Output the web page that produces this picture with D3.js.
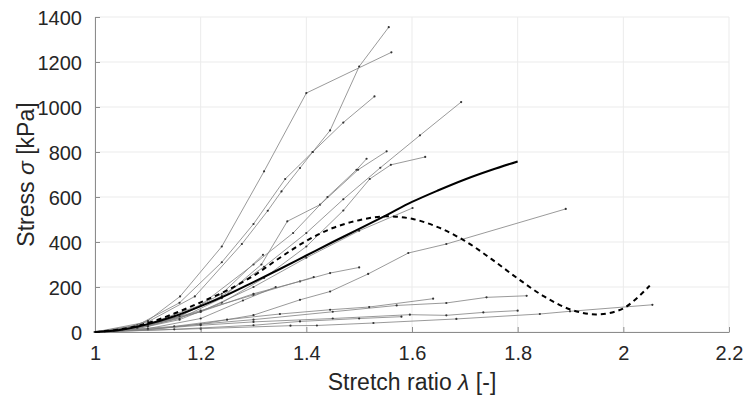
<!DOCTYPE html>
<html>
<head>
<meta charset="utf-8">
<script src="https://cdn.jsdelivr.net/npm/d3@7/dist/d3.min.js"></script>
<style>
	body { margin: 0; background: #fff; }
	text { font-family: 'Liberation Sans', Arial, sans-serif; fill: #262626; }
</style>
</head>
<body>
<div id="chart"></div>
<script>
// axis ticks
const lambdaTicks = [1, 1.2, 1.4, 1.6, 1.8, 2, 2.2];
const stressTicks = [0, 200, 400, 600, 800, 1000, 1200, 1400];

// specimens: [stretch ratio, stress kPa]
const s01 = [[1, 0], [1.1, 45], [1.189, 158], [1.278, 391], [1.327, 539], [1.353, 625], [1.388, 729], [1.412, 800], [1.445, 896], [1.5, 1180], [1.556, 1355]];
const s02 = [[1, 0], [1.05, 10], [1.1, 50], [1.161, 158], [1.24, 380], [1.32, 714], [1.4, 1062], [1.561, 1243]];
const s03 = [[1, 0], [1.08, 30], [1.16, 130], [1.24, 310], [1.3, 480], [1.36, 680], [1.412, 800], [1.47, 931], [1.529, 1047]];
const s04 = [[1, 0], [1.08, 20], [1.16, 70], [1.24, 160], [1.32, 290], [1.4, 440], [1.47, 590], [1.54, 730], [1.615, 874], [1.693, 1022]];
const s05 = [[1, 0], [1.08, 18], [1.16, 60], [1.24, 150], [1.315, 300], [1.364, 492], [1.426, 566], [1.498, 721], [1.552, 803]];
const s06 = [[1, 0], [1.1, 35], [1.2, 120], [1.3, 300], [1.375, 440], [1.44, 600], [1.495, 721], [1.514, 770]];
const s07 = [[1, 0], [1.08, 15], [1.16, 55], [1.24, 130], [1.32, 240], [1.4, 380], [1.47, 540], [1.52, 680], [1.56, 743], [1.625, 778]];
const s08 = [[1, 0], [1.1, 10], [1.2, 35], [1.3, 75], [1.388, 143], [1.445, 180], [1.517, 258], [1.593, 351], [1.665, 391], [1.891, 547]];
const s09 = [[1, 0], [1.1, 25], [1.2, 90], [1.3, 200], [1.4, 330], [1.5, 450], [1.601, 551]];
const s10 = [[1, 0], [1.1, 30], [1.2, 90], [1.3, 170], [1.388, 225], [1.445, 262], [1.5, 287]];
const s11 = [[1, 0], [1.1, 30], [1.2, 95], [1.3, 165], [1.414, 244]];
const s12 = [[1, 0], [1.1, 12], [1.2, 35], [1.3, 55], [1.45, 90], [1.571, 118], [1.665, 129], [1.741, 154], [1.817, 161]];
const s13 = [[1, 0], [1.15, 25], [1.25, 55], [1.35, 80], [1.445, 99], [1.519, 111], [1.64, 148]];
const s14 = [[1, 0], [1.1, 12], [1.2, 30], [1.3, 45], [1.45, 60], [1.596, 77], [1.665, 74], [1.735, 87], [1.8, 95]];
const s15 = [[1, 0], [1.2, 15], [1.37, 28], [1.42, 29], [1.527, 40], [1.684, 58], [1.842, 80], [1.899, 92], [2.055, 121]];
const s16 = [[1, 0], [1.08, 20], [1.16, 70], [1.24, 170], [1.318, 343]];
const s17 = [[1, 0], [1.1, 15], [1.2, 60], [1.28, 140], [1.342, 200]];
const s18 = [[1, 0], [1.15, 12], [1.3, 30], [1.388, 47], [1.5, 60], [1.58, 68]];
const specimens = [s01, s02, s03, s04, s05, s06, s07, s08, s09, s10, s11, s12, s13, s14, s15, s16, s17, s18];

// mean curve and model fit
const meanCurve = [[1, 0], [1.05, 10], [1.1, 35], [1.15, 70], [1.2, 115], [1.25, 165], [1.3, 222], [1.35, 280], [1.4, 340], [1.45, 400], [1.5, 458], [1.55, 517], [1.6, 578], [1.65, 630], [1.7, 678], [1.75, 720], [1.8, 758]];
const fitCurve = [[1, 0], [1.05, 12], [1.1, 40], [1.15, 82], [1.2, 132], [1.25, 185], [1.3, 250], [1.35, 330], [1.4, 405], [1.45, 462], [1.5, 497], [1.55, 514], [1.6, 503], [1.65, 465], [1.7, 405], [1.75, 325], [1.8, 238], [1.85, 158], [1.9, 100], [1.95, 78], [2.0, 105], [2.05, 206]];

const W = 747, H = 399;
const margin = { top: 17, right: 18, bottom: 67, left: 95 };
const width = W - margin.left - margin.right;
const height = H - margin.top - margin.bottom;

const svg = d3
	.select('#chart')
	.append('svg')
	.attr('width', W)
	.attr('height', H);

const x = d3
	.scaleLinear()
	.domain([1, 2.2])
	.range([0, width]);
const y = d3
	.scaleLinear()
	.domain([0, 1400])
	.range([height, 0]);

const chart = svg
	.append('g')
	.attr('transform', 'translate(' + margin.left + ',' + margin.top + ')');

// Grid
chart
	.append('g')
	.selectAll('line')
	.data(lambdaTicks)
	.enter()
	.append('line')
	.attr('x1', d => x(d))
	.attr('x2', d => x(d))
	.attr('y1', 0)
	.attr('y2', height)
	.attr('stroke', '#ebebeb')
	.attr('stroke-width', 1);
chart
	.append('g')
	.selectAll('line')
	.data(stressTicks)
	.enter()
	.append('line')
	.attr('x1', 0)
	.attr('x2', width)
	.attr('y1', d => y(d))
	.attr('y2', d => y(d))
	.attr('stroke', '#ebebeb')
	.attr('stroke-width', 1);

// Axes
const xAxis = d3
	.axisBottom(x)
	.tickValues(lambdaTicks)
	.tickSizeInner(-5)
	.tickSizeOuter(0)
	.tickPadding(14)
	.tickFormat(d3.format('~g'));
const yAxis = d3
	.axisLeft(y)
	.tickValues(stressTicks)
	.tickSizeInner(-5)
	.tickSizeOuter(0)
	.tickPadding(13)
	.tickFormat(d3.format('d'));

const aX = chart
	.append('g')
	.attr('transform', 'translate(0,' + height + ')')
	.call(xAxis);
const aY = chart.append('g').call(yAxis);
[aX, aY].forEach(a => {
	a.select('.domain').attr('stroke', '#8c8c8c');
	a.selectAll('.tick line').attr('stroke', '#8c8c8c');
	a.selectAll('text')
		.style('font-family', "'Liberation Sans', Arial, sans-serif")
		.style('font-size', '20px')
		.attr('fill', '#1a1a1a');
});
aY.selectAll('text').attr('dy', '0.36em');

// Data
const line = d3
	.line()
	.x(d => x(d[0]))
	.y(d => y(d[1]));
const smooth = d3
	.line()
	.curve(d3.curveCatmullRom)
	.x(d => x(d[0]))
	.y(d => y(d[1]));

const data = chart.append('g').attr('class', 'chart-data');
specimens.forEach(s => {
	data
		.append('path')
		.datum(s)
		.attr('d', line)
		.attr('fill', 'none')
		.attr('stroke', '#808080')
		.attr('stroke-width', 0.8);
	data
		.append('g')
		.selectAll('circle')
		.data(s)
		.enter()
		.append('circle')
		.attr('cx', d => x(d[0]))
		.attr('cy', d => y(d[1]))
		.attr('r', 1.1)
		.attr('fill', '#333');
});

data
	.append('path')
	.datum(meanCurve)
	.attr('d', smooth)
	.attr('fill', 'none')
	.attr('stroke', '#000')
	.attr('stroke-width', 2)
	.attr('stroke-linejoin', 'round');
data
	.append('path')
	.datum(fitCurve)
	.attr('d', smooth)
	.attr('fill', 'none')
	.attr('stroke', '#000')
	.attr('stroke-width', 2)
	.attr('stroke-dasharray', '5,4');

// Axis titles
const xTitle = svg
	.append('text')
	.attr('x', margin.left + width / 2)
	.attr('y', 390)
	.attr('text-anchor', 'middle')
	.style('font-size', '23px');
xTitle.append('tspan').text('Stretch ratio ');
xTitle.append('tspan').style('font-style', 'italic').text('λ');
xTitle.append('tspan').text(' [-]');

const yTitle = svg
	.append('text')
	.attr('transform', 'translate(34,' + (margin.top + height / 2) + ') rotate(-90)')
	.attr('text-anchor', 'middle')
	.style('font-size', '23px');
yTitle.append('tspan').text('Stress ');
yTitle.append('tspan').style('font-style', 'italic').text('σ');
yTitle.append('tspan').text(' [kPa]');
</script>
</body>
</html>
